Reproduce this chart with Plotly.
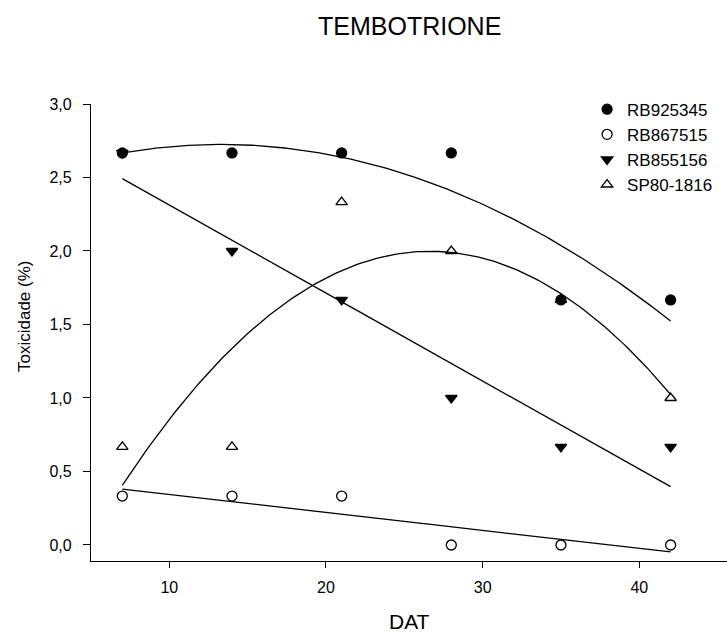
import numpy as np
import plotly.graph_objects as go

# Days after treatment and toxicity scores per cultivar
dat = [7, 14, 21, 28, 35, 42]
rb925345 = [2.667, 2.667, 2.667, 2.667, 1.667, 1.667]
rb867515 = [0.333, 0.333, 0.333, 0.0, 0.0, 0.0]
rb855156 = [2.667, 2.0, 1.667, 1.0, 0.667, 0.667]
sp801816 = [0.667, 0.667, 2.333, 2.0, 1.667, 1.0]

# name, values, marker symbol, polynomial degree of the regression curve
series = [
    ("RB925345", rb925345, "circle", 2),
    ("RB867515", rb867515, "circle-open", 1),
    ("RB855156", rb855156, "triangle-down", 1),
    ("SP80-1816", sp801816, "triangle-up-open", 2),
]

fig = go.Figure()
xs = np.linspace(min(dat), max(dat), 200)
for name, vals, sym, deg in series:
    coef = np.polyfit(dat, vals, deg)
    fig.add_trace(go.Scatter(
        x=xs, y=np.polyval(coef, xs), mode="lines",
        line=dict(color="black", width=1.3), showlegend=False, hoverinfo="skip"))

for name, vals, sym, deg in series:
    fig.add_trace(go.Scatter(
        x=dat, y=vals, mode="markers", name=name,
        marker=dict(symbol=sym, size=10, color="black",
                    line=dict(color="black", width=1.3))))

axis_font = dict(family="Liberation Sans, Arial, sans-serif", size=16, color="black")
fig.update_layout(
    width=727, height=633,
    margin=dict(l=91, r=0, t=104, b=72),
    paper_bgcolor="white", plot_bgcolor="white",
    separators=",.",
    font=dict(family="Liberation Sans, Arial, sans-serif", color="black"),
    legend=dict(x=0.78, y=1.027, xanchor="left", yanchor="top",
                font=dict(size=17, color="black"), bgcolor="rgba(0,0,0,0)",
                itemwidth=30),
    xaxis=dict(range=[5, 45.6], tickvals=[10, 20, 30, 40], showgrid=False,
               zeroline=False, showline=True, linecolor="black", linewidth=1.3,
               ticks="outside", ticklen=6, tickwidth=1.2, tickcolor="black",
               tickfont=axis_font, ticklabelstandoff=6),
    yaxis=dict(range=[-0.109, 3.0], tickvals=[0, 0.5, 1, 1.5, 2, 2.5, 3],
               tickformat=".1f", showgrid=False, zeroline=False,
               showline=True, linecolor="black", linewidth=1.3,
               ticks="outside", ticklen=7, tickwidth=1.2, tickcolor="black",
               tickfont=axis_font, ticklabelstandoff=8),
    annotations=[
        dict(text="TEMBOTRIONE", xref="paper", yref="paper", x=0.5, y=1.0,
             yshift=94, showarrow=False, font=dict(size=25)),
        dict(text="DAT", xref="paper", yref="paper", x=0.5, y=0,
             yshift=-74, showarrow=False, font=dict(size=21)),
        dict(text="Toxicidade (%)", xref="paper", yref="paper", x=0, y=0.5,
             xshift=-78, yshift=16, textangle=-90, showarrow=False,
             font=dict(size=17)),
    ],
)

fig.write_html("out.html")
